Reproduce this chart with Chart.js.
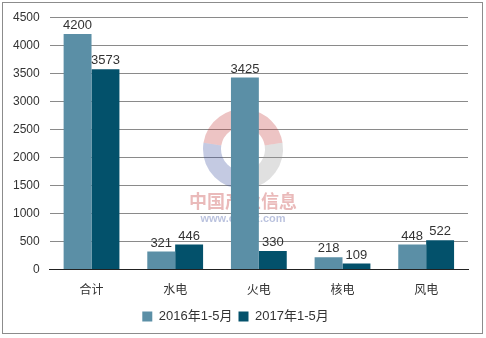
<!DOCTYPE html>
<html>
<head>
<meta charset="utf-8">
<script src="https://cdn.jsdelivr.net/npm/chart.js@4/dist/chart.umd.min.js"></script>
<style>
  html, body { margin: 0; padding: 0; background: #fff; }
  #frame {
    position: absolute; left: 2px; top: 2px; width: 479px; height: 330px;
    border: 1px solid #8c8c8c;
  }
  #wrap { position: absolute; left: 0; top: 0; width: 486px; height: 338px; }
</style>
</head>
<body>
<div id="frame"></div>
<div id="wrap"><canvas id="chart"></canvas></div>
<script>
const categories = ["合计", "水电", "火电", "核电", "风电"];
const seriesNames = ["2016年1-5月", "2017年1-5月"];
const values2016 = [4200, 321, 3425, 218, 448];
const values2017 = [3573, 446, 330, 109, 522];
const yTicks = [0, 500, 1000, 1500, 2000, 2500, 3000, 3500, 4000, 4500];

const fontFamily = "'Liberation Sans', 'Noto Sans CJK SC', sans-serif";

// value labels above each bar
const valueLabels = {
  id: "valueLabels",
  afterDatasetsDraw(chart) {
    const ctx = chart.ctx;
    ctx.save();
    ctx.font = "13px " + fontFamily;
    ctx.fillStyle = "#333";
    ctx.textAlign = "center";
    ctx.textBaseline = "bottom";
    chart.data.datasets.forEach((ds, i) => {
      chart.getDatasetMeta(i).data.forEach((bar, j) => {
        ctx.fillText(ds.data[j], bar.x, bar.y - 2);
      });
    });
    ctx.restore();
  },
};

// faint watermark in the middle of the plot
const watermark = {
  id: "watermark",
  beforeDatasetsDraw(chart) {
    const ctx = chart.ctx;
    const cx = 243, cy = 149;
    ctx.save();
    ctx.globalAlpha = 0.3;
    ctx.lineWidth = 18;
    ctx.strokeStyle = "#c23a3a";
    ctx.beginPath();
    ctx.arc(cx, cy, 31, Math.PI * 1.05, Math.PI * 1.95);
    ctx.stroke();
    ctx.strokeStyle = "#3a4fa0";
    ctx.beginPath();
    ctx.arc(cx, cy, 31, Math.PI * 0.5, Math.PI * 1.05);
    ctx.stroke();
    ctx.strokeStyle = "#999";
    ctx.beginPath();
    ctx.arc(cx, cy, 31, Math.PI * 1.95, Math.PI * 2.5);
    ctx.stroke();
    ctx.globalAlpha = 0.35;
    ctx.fillStyle = "#c23a3a";
    ctx.font = "bold 18px 'Noto Sans CJK SC', sans-serif";
    ctx.textAlign = "center";
    ctx.textBaseline = "middle";
    ctx.fillText("中国产业信息", cx, 201);
    ctx.fillStyle = "#3a4fa0";
    ctx.font = "bold 11px 'Liberation Sans', sans-serif";
    ctx.fillText("www.chyxx.com", cx, 219);
    ctx.restore();
  },
};

new Chart(document.getElementById("chart"), {
  type: "bar",
  data: {
    labels: categories,
    datasets: [
      { label: seriesNames[0], data: values2016, backgroundColor: "#5b8fa6" },
      { label: seriesNames[1], data: values2017, backgroundColor: "#03516b" },
    ],
  },
  options: {
    responsive: true,
    maintainAspectRatio: false,
    animation: false,
    layout: { padding: { left: 3, right: 18, top: 10, bottom: 5 } },
    datasets: { bar: { categoryPercentage: 0.667, barPercentage: 1 } },
    plugins: {
      legend: {
        position: "bottom",
        labels: { boxWidth: 10, boxHeight: 10, color: "#333", padding: 6, font: { size: 13, family: fontFamily } },
      },
      tooltip: { enabled: false },
    },
    scales: {
      x: {
        grid: { display: false },
        border: { color: "#222", width: 1 },
        ticks: { color: "#333", padding: 6, font: { size: 12, family: fontFamily } },
      },
      y: {
        min: 0,
        max: 4500,
        afterBuildTicks: (axis) => { axis.ticks = yTicks.map((v) => ({ value: v })); },
        grid: { color: "#8a8a8a", drawTicks: false },
        border: { display: false },
        ticks: { color: "#333", padding: 10, font: { size: 12, family: fontFamily }, callback: (v) => String(v) },
      },
    },
  },
  plugins: [watermark, valueLabels],
});
</script>
</body>
</html>
